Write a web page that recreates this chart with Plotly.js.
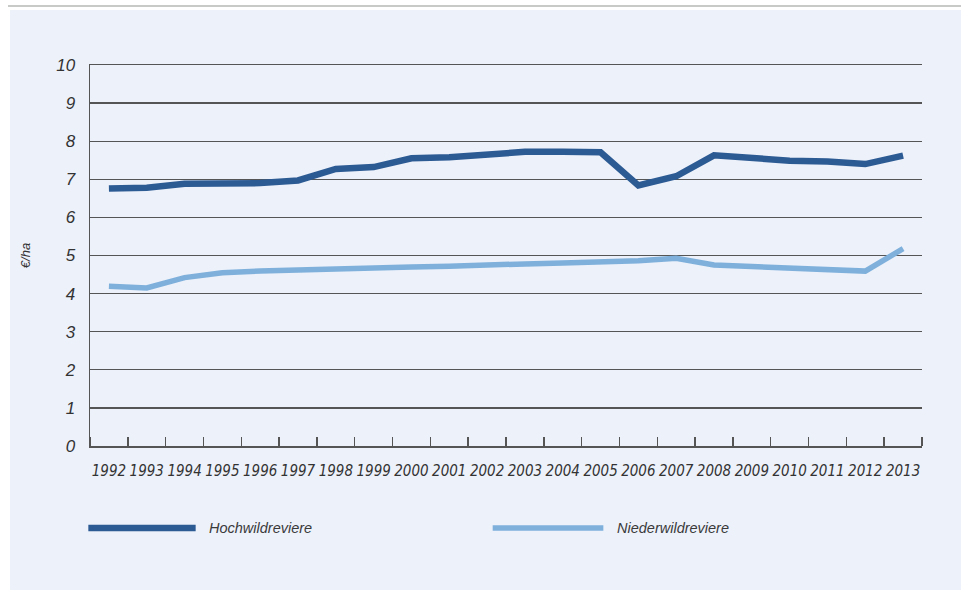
<!DOCTYPE html>
<html>
<head>
<meta charset="utf-8">
<script src="https://cdn.plot.ly/plotly-3.0.1.min.js"></script>
<style>
  html, body { margin: 0; padding: 0; background: #ffffff; width: 961px; height: 590px; overflow: hidden; }
  #topline { position: absolute; left: 8px; top: 5px; width: 953px; height: 0; border-top: 2px solid #c8cac8; }
  #chart { position: absolute; left: 10px; top: 10px; width: 951px; height: 580px; }
</style>
</head>
<body>
<div id="topline"></div>
<div id="chart"></div>
<script>
const years = [1992,1993,1994,1995,1996,1997,1998,1999,2000,2001,2002,2003,2004,2005,2006,2007,2008,2009,2010,2011,2012,2013];
const hochwild = [6.76,6.78,6.88,6.88,6.90,6.97,7.27,7.32,7.55,7.58,7.66,7.72,7.72,7.71,6.84,7.08,7.63,7.55,7.49,7.47,7.40,7.62];
const niederwild = [4.19,4.15,4.42,4.55,4.59,4.62,4.67,4.68,4.70,4.72,4.76,4.78,4.80,4.82,4.86,4.93,4.75,4.71,4.66,4.62,4.59,5.18];
const seriesNames = ['Hochwildreviere', 'Niederwildreviere'];
const seriesColors = ['#2c5a93', '#7eb0db'];
const yTicks = [0,1,2,3,4,5,6,7,8,9,10];
const yLabel = '€/ha';

const traces = [
  { x: years, y: hochwild, name: seriesNames[0], type: 'scatter', mode: 'lines',
    line: { color: seriesColors[0], width: 6.5 }, showlegend: false, hoverinfo: 'skip' },
  { x: years, y: niederwild, name: seriesNames[1], type: 'scatter', mode: 'lines',
    line: { color: seriesColors[1], width: 5.5 }, showlegend: false, hoverinfo: 'skip' }
];

const legendShapes = [
  { type: 'line', xref: 'paper', yref: 'paper', x0: -0.002, x1: 0.127, y0: -0.215, y1: -0.215,
    line: { color: seriesColors[0], width: 6.5 } },
  { type: 'line', xref: 'paper', yref: 'paper', x0: 0.484, x1: 0.617, y0: -0.215, y1: -0.215,
    line: { color: seriesColors[1], width: 5.5 } }
];
const legendText = [
  { xref: 'paper', yref: 'paper', x: 0.1406, y: -0.215, xanchor: 'left', yanchor: 'middle',
    text: '<i>' + seriesNames[0] + '</i>', showarrow: false,
    font: { family: 'Liberation Sans, Arial, sans-serif', size: 14.5, color: '#3a3a3a' } },
  { xref: 'paper', yref: 'paper', x: 0.631, y: -0.215, xanchor: 'left', yanchor: 'middle',
    text: '<i>' + seriesNames[1] + '</i>', showarrow: false,
    font: { family: 'Liberation Sans, Arial, sans-serif', size: 14.5, color: '#3a3a3a' } }
];

const layout = {
  width: 951, height: 580,
  paper_bgcolor: '#edf1fa', plot_bgcolor: '#edf1fa',
  margin: { l: 80, r: 39, t: 55, b: 144 },
  showlegend: false,
  xaxis: {
    range: [1991.5, 2013.5],
    tickmode: 'array', tickvals: years, ticktext: years.map(String),
    ticks: '', showgrid: false, zeroline: false,
    showline: true, mirror: true, linecolor: '#555555', linewidth: 1.5,
    tickangle: 0, ticklabelstandoff: 10,
    tickfont: { family: 'DejaVu Sans Condensed, sans-serif', size: 15, color: '#333333', style: 'italic' },
    minor: { tickmode: 'linear', tick0: 1992.5, dtick: 1, ticks: 'inside', ticklen: 9, tickwidth: 1.5, tickcolor: '#555555', showgrid: false }
  },
  yaxis: {
    range: [0, 10], tickmode: 'array', tickvals: yTicks, ticktext: yTicks.map(String),
    ticks: '', showgrid: true, gridcolor: '#555555', gridwidth: 1.3,
    zeroline: false, showline: true, linecolor: '#555555', linewidth: 1.5,
    ticklabelstandoff: 10,
    tickfont: { family: 'Liberation Sans, Arial, sans-serif', size: 17, color: '#333333', style: 'italic' },
    title: { text: '<i>' + yLabel + '</i>', standoff: 22,
      font: { family: 'Liberation Sans, Arial, sans-serif', size: 13, color: '#333333' } }
  },
  shapes: legendShapes,
  annotations: legendText
};

Plotly.newPlot('chart', traces, layout, { displayModeBar: false, staticPlot: true });
</script>
</body>
</html>
